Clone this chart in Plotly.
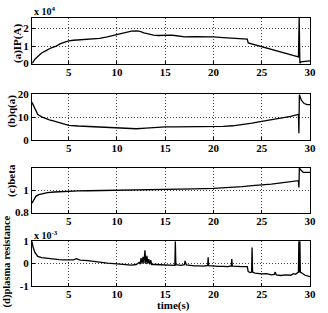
import plotly.graph_objects as go

# ---- data ----
t_ip = [1.2, 1.5, 1.8, 2.2, 2.7, 3.2, 3.7, 4.1, 4.6, 5, 5.5, 6, 6.5, 7, 7.5, 8.2, 9, 10, 10.5, 11,
        11.5, 12, 12.4, 12.8, 13.3, 13.8, 14.3, 15, 15.5, 16, 16.5, 17, 18, 19, 20, 21, 22, 23, 23.5,
        23.6, 24, 25, 26, 27, 28, 28.8, 28.88, 28.95, 29.05, 29.5, 30]
ip = [0, 0.25, 0.4, 0.6, 0.75, 0.9, 1.0, 1.12, 1.22, 1.3, 1.33, 1.35, 1.37, 1.38, 1.4, 1.44, 1.52,
      1.66, 1.72, 1.8, 1.85, 1.86, 1.84, 1.75, 1.67, 1.62, 1.6, 1.62, 1.62, 1.6, 1.55, 1.52, 1.54,
      1.55, 1.52, 1.48, 1.45, 1.42, 1.4, 1.18, 1.12, 0.95, 0.8, 0.65, 0.5, 0.38, 2.65, 0.0, 0.1,
      0.12, 0.15]

t_q = [1.2, 1.5, 1.8, 2.2, 2.6, 3, 3.5, 4, 4.5, 5, 6, 7, 8, 9, 10, 11, 12, 13, 14, 15, 16, 17, 18,
       19, 20, 21, 22, 23, 24, 25, 26, 27, 28, 28.8, 28.85, 28.9, 29.1, 29.4, 29.7, 30]
q = [16.5, 13.5, 11.2, 10.2, 9.5, 8.9, 8.3, 7.6, 7, 6.5, 6.2, 6, 5.8, 5.6, 5.4, 5.2, 5.0, 5.3, 5.6,
     5.8, 5.8, 5.8, 5.8, 5.8, 5.9, 6.0, 6.3, 6.8, 7.5, 8.2, 8.9, 9.6, 10.4, 11.3, 3.0, 20, 17.5,
     16, 15.5, 15.5]

t_beta = [1.2, 1.4, 1.6, 1.9, 2.3, 2.8, 3.5, 4.2, 5, 6, 7, 8, 9, 10, 11, 12, 14, 16, 18, 20, 21, 22,
          23, 24, 25, 26, 27, 28, 28.8, 28.85, 28.9, 29.1, 29.3, 30]
beta = [0.885, 0.92, 0.945, 0.96, 0.97, 0.978, 0.984, 0.988, 0.99, 0.993, 0.995, 0.996, 0.998,
        1.0, 1.0, 1.003, 1.005, 1.008, 1.012, 1.016, 1.02, 1.025, 1.032, 1.04, 1.046, 1.055,
        1.065, 1.075, 1.085, 1.025, 1.2, 1.175, 1.16, 1.16]

t_res = [1.2, 1.3, 1.5, 1.8, 2.2, 2.5, 3, 3.5, 4, 4.5, 5, 5.5, 5.8, 6.2, 7, 8.2, 9, 10, 11, 11.5,
         12, 12.3, 12.4, 12.5, 12.6, 12.7, 12.8, 12.9, 13.0, 13.1, 13.2, 13.3, 13.4, 13.5, 13.6,
         13.8, 14, 14.5, 15, 15.5, 16.0, 16.05, 16.1, 16.3, 16.6, 17.0, 17.05, 17.2, 17.5, 18,
         18.5, 19, 19.4, 19.45, 19.5, 19.8, 20, 20.5, 21, 21.5, 21.85, 21.9, 21.95, 22.5, 23,
         23.5, 23.6, 23.8, 23.95, 24.0, 24.05, 24.3, 24.7, 25, 25.5, 26, 26.3, 26.4, 26.5, 27,
         27.5, 28, 28.3, 28.5, 28.8, 28.85, 28.9, 28.95, 29.0, 29.2, 29.5, 30]
res = [1.0, 0.75, 0.5, 0.32, 0.27, 0.25, 0.23, 0.2, 0.18, 0.17, 0.18, 0.17, 0.22, 0.16, 0.13, 0.06,
       0.02, -0.01, -0.05, -0.07, -0.04, 0.05, -0.02, 0.25, 0.0, 0.3, 0.02, 0.6, -0.02, 0.35, 0.0,
       0.2, -0.03, 0.15, -0.04, -0.05, -0.04, -0.05, -0.06, -0.07, -0.08, 1.0, -0.05, -0.06,
       -0.08, -0.05, 0.12, -0.06, -0.08, -0.1, -0.1, -0.11, -0.08, 0.28, -0.09, -0.1, -0.12,
       -0.12, -0.12, -0.13, -0.1, 0.2, -0.11, -0.13, -0.13, -0.13, -0.36, -0.4, -0.38, 0.72,
       -0.38, -0.42, -0.44, -0.46, -0.45, -0.5, -0.48, -0.38, -0.5, -0.53, -0.5, -0.52, -0.45,
       -0.48, -0.38, 1.1, -0.4, 1.1, -0.38, -0.45, -0.52, -0.58]

x_ticks = [5, 10, 15, 20, 25, 30]
ylabels = ["(a)IP(A)", "(b)q(a)", "(c)beta", "(d)plasma resistance"]

FONT = "Liberation Serif"
series = [(t_ip, ip), (t_q, q), (t_beta, beta), (t_res, res)]
domains = [[0.830, 1.0], [0.544, 0.715], [0.274, 0.441], [0.0, 0.167]]
yranges = [[0, 2.6], [0, 20], [0.8, 1.2], [-1, 1]]
ytickvals = [[0, 1, 2], [0, 10, 20], [0.8, 1], [-1, 0, 1]]
yticktext = [["0", "1", "2"], ["0", "10", "20"], ["0.8", "1"], ["-1", "0", "1"]]
label_pos = [(-0.053, 0.904), (-0.0745, 0.652), (-0.0745, 0.393), (-0.0887, 0.093)]

GRID = dict(showgrid=True, gridcolor="#444444", gridwidth=1, griddash="1px,2px")

fig = go.Figure()
layout = dict(
    width=328, height=313,
    margin=dict(l=32, r=14, t=16, b=27),
    paper_bgcolor="white", plot_bgcolor="white",
    showlegend=False,
    font=dict(family=FONT, size=11, color="black"),
)
annotations = []
for i, ((tx, ty), dom, yr, tv, tt, lab, lp) in enumerate(
        zip(series, domains, yranges, ytickvals, yticktext, ylabels, label_pos)):
    n = "" if i == 0 else str(i + 1)
    fig.add_trace(go.Scatter(x=tx, y=ty, mode="lines",
                             line=dict(color="black", width=1.3),
                             xaxis="x" + n, yaxis="y" + n, cliponaxis=True))
    layout["xaxis" + n] = dict(
        domain=[0, 1], anchor="y" + n, range=[1.2, 30],
        tickvals=x_ticks, ticktext=[str(v) for v in x_ticks],
        showline=True, mirror=True, linecolor="black", linewidth=1,
        ticks="inside", ticklen=3, tickcolor="black",
        zeroline=False, ticklabelstandoff=-2,
        tickfont=dict(family=FONT, size=11, color="black", weight="bold"),
        **GRID,
    )
    layout["yaxis" + n] = dict(
        domain=dom, anchor="x" + n, range=yr,
        tickvals=tv, ticktext=tt,
        showline=True, mirror=True, linecolor="black", linewidth=1,
        ticks="inside", ticklen=3, tickcolor="black",
        zeroline=False,
        tickfont=dict(family=FONT, size=11, color="black", weight="bold"),
        **GRID,
    )
    annotations.append(dict(
        text="<b>" + lab + "</b>", xref="paper", yref="paper",
        x=lp[0], y=lp[1], xanchor="center", yanchor="middle",
        textangle=-90, showarrow=False,
        font=dict(family=FONT, size=10.5 if i == 3 else 11, color="black")))

annotations.append(dict(text="<b>x 10<sup>4</sup></b>", xref="paper", yref="paper",
                        x=0.0, y=1.025, xanchor="left", yanchor="middle", showarrow=False,
                        font=dict(family=FONT, size=10, color="black")))
annotations.append(dict(text="<b>x 10<sup>-3</sup></b>", xref="paper", yref="paper",
                        x=0.0, y=0.19, xanchor="left", yanchor="middle", showarrow=False,
                        font=dict(family=FONT, size=10, color="black")))
annotations.append(dict(text="<b>time(s)</b>", xref="paper", yref="paper",
                        x=0.51, y=-0.072, xanchor="center", yanchor="middle", showarrow=False,
                        font=dict(family=FONT, size=11, color="black")))
layout["annotations"] = annotations
fig.update_layout(**layout)
fig.write_html("out.html", config={"displayModeBar": False},
               post_script="document.body.style.margin='0';document.body.style.overflow='hidden';")
